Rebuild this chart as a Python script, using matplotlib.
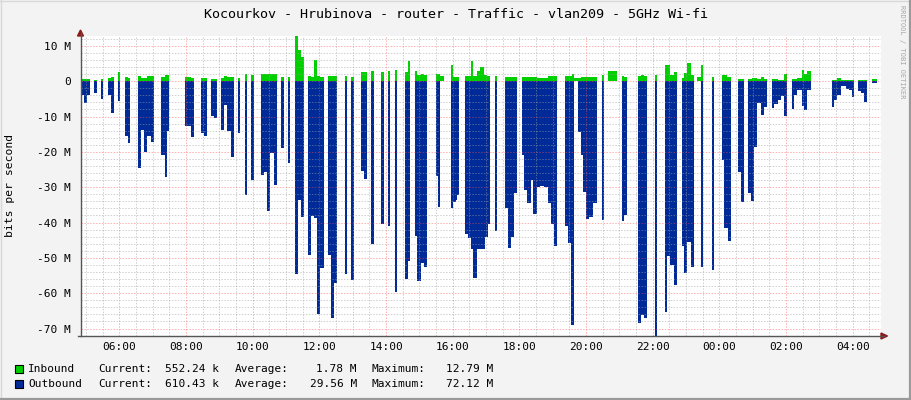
"""Graf provozu vlan209 (5GHz Wi-fi) ve stylu RRDtool / Cacti."""
import numpy as np
import matplotlib
matplotlib.use("Agg")
import matplotlib.pyplot as plt
from matplotlib.ticker import MultipleLocator, FuncFormatter
from matplotlib.patches import Polygon, Rectangle
from matplotlib.lines import Line2D

TITULEK = "Kocourkov - Hrubinova - router - Traffic - vlan209 - 5GHz Wi-fi"

# Inbound: časy změn hodnoty a hodnota v Mbit/s (0 = bez dat)
IN_CAS = ["04:50", "05:07", "05:15", "05:19", "05:26", "05:31", "05:39", "05:44", "05:50",
          "05:57", "06:01", "06:10", "06:15", "06:19", "06:33", "06:38", "06:50", "07:02",
          "07:15", "07:22", "07:30", "07:58", "08:08", "08:14", "08:27", "08:38", "08:45",
          "08:56", "09:03", "09:08", "09:14", "09:26", "09:33", "09:37", "09:46", "09:50",
          "09:57", "10:02", "10:15", "10:44", "10:51", "10:56",
          "11:03", "11:07", "11:16", "11:21", "11:26", "11:32", "11:39", "11:44", "11:51",
          "11:56", "12:01", "12:08", "12:15", "12:32", "12:46", "12:50", "12:57", "13:02",
          "13:15", "13:26", "13:33", "13:38", "13:51", "13:56", "14:03", "14:07", "14:16",
          "14:20", "14:34", "14:39", "14:43", "14:52", "14:56", "15:02", "15:08", "15:14",
          "15:29", "15:37", "15:44", "15:57", "16:01", "16:12", "16:22", "16:32", "16:37",
          "16:43", "16:49", "16:56", "17:01", "17:07", "17:16", "17:20",
          "17:34", "17:56", "18:04", "18:31", "18:51", "19:07", "19:22", "19:34", "19:38",
          "19:45", "19:51", "20:20", "20:29", "20:32", "20:39", "20:56", "21:05", "21:09",
          "21:14", "21:33", "21:39", "21:44", "21:50", "22:04", "22:08", "22:22", "22:31",
          "22:39", "22:44", "22:52", "22:57", "23:02", "23:08", "23:14", "23:20", "23:27",
          "23:31", "23:46", "23:50",
          "00:04", "00:13", "00:21", "00:33", "00:44", "00:51", "00:58", "01:08", "01:15",
          "01:20", "01:25", "01:34", "01:45", "01:56", "02:01", "02:10", "02:20", "02:28",
          "02:33", "02:38", "02:45", "03:22", "03:32", "03:39", "04:02", "04:09", "04:25",
          "04:34", "04:43"]
IN_MBPS = [0.6, 0, 0.3, 0, 0.6, 0, 0.8, 1.1, 0,
           2.6, 0, 1.1, 0.8, 0, 1.4, 0.8, 1.4, 0,
           1.1, 1.7, 0, 1.1, 0.8, 0, 0.8, 0, 0.5,
           0, 0.8, 1.4, 1.1, 0, 0.8, 0, 2.0, 0,
           1.7, 0, 2.0, 0, 1.1, 0,
           1.1, 0, 12.79, 8.8, 6.9, 0, 1.4, 1.1, 6.0,
           1.4, 1.1, 0, 1.4, 0, 1.4, 0, 1.1, 0,
           2.6, 0, 2.8, 0, 2.6, 0, 2.8, 0, 3.1,
           0, 2.6, 5.7, 0, 2.8, 1.7, 2.0, 1.7, 0,
           1.9, 1.5, 0, 4.5, 1.2, 0, 1.4, 5.6, 1.4,
           3.0, 4.0, 1.7, 1.4, 0, 1.4, 0,
           1.1, 0, 1.1, 0.85, 1.4, 0, 1.4, 2.1, 1.0,
           0.9, 1.3, 0, 1.7, 0, 2.8, 0, 1.4, 1.1,
           0, 1.4, 1.7, 1.4, 0, 1.7, 0, 4.5, 1.7,
           2.6, 0, 0.9, 2.3, 5.2, 1.7, 0, 1.2, 4.6,
           0, 1.1, 0,
           1.7, 1.1, 0, 0.6, 0, 0.6, 0.85, 0.6, 1.1,
           0.6, 0, 0.5, 0.3, 2.0, 0, 0.5, 0.8, 3.3,
           1.9, 2.8, 0, 0.3, 0.8, 0.3, 0, 0.3, 0,
           0.55, 0]

# Outbound: časy změn hodnoty a hodnota v Mbit/s (kreslí se dolů)
OUT_CAS = ["04:50", "04:57", "05:02", "05:07", "05:15", "05:19", "05:26", "05:31", "05:39",
           "05:44", "05:50", "05:57", "06:01", "06:10", "06:15", "06:19", "06:33", "06:38",
           "06:45", "06:50", "06:56", "07:02", "07:15", "07:22", "07:26", "07:30", "07:58",
           "08:08", "08:14", "08:27", "08:32", "08:38", "08:45", "08:51", "08:56", "09:03",
           "09:08", "09:14", "09:20", "09:26", "09:33", "09:37", "09:46", "09:50", "09:57",
           "10:02", "10:15", "10:20", "10:26", "10:31", "10:39", "10:44", "10:51", "10:56",
           "11:03", "11:07", "11:16", "11:21", "11:26", "11:32", "11:39", "11:44", "11:51",
           "11:56", "12:01", "12:08", "12:15", "12:20", "12:27", "12:32", "12:46", "12:50",
           "12:57", "13:02", "13:15", "13:20", "13:26", "13:33", "13:38", "13:51", "13:56",
           "14:03", "14:07", "14:16", "14:20", "14:34", "14:39", "14:43", "14:52", "14:56",
           "15:02", "15:08", "15:14", "15:29", "15:33", "15:37", "15:57", "16:01", "16:05",
           "16:08", "16:12", "16:22", "16:27", "16:32", "16:37", "16:43", "16:58", "17:03",
           "17:07", "17:16", "17:20",
           "17:34", "17:39", "17:45", "17:50", "17:56", "18:04", "18:09", "18:13", "18:20",
           "18:24", "18:31", "18:36", "18:45", "18:51", "18:57", "19:02", "19:07", "19:22",
           "19:27", "19:32", "19:38", "19:45", "19:51", "19:55", "19:59", "20:05", "20:12",
           "20:20", "20:29", "20:32", "21:05", "21:09", "21:14", "21:33", "21:39", "21:44",
           "21:50", "22:04", "22:08", "22:22", "22:25", "22:31", "22:39", "22:44", "22:52",
           "22:57", "23:02", "23:08", "23:14", "23:27", "23:31", "23:46", "23:50",
           "00:04", "00:09", "00:15", "00:21", "00:33", "00:39", "00:44", "00:51", "00:57",
           "01:02", "01:08", "01:15", "01:20", "01:25", "01:34", "01:39", "01:45", "01:51",
           "01:56", "02:01", "02:10", "02:14", "02:20", "02:28", "02:33", "02:38", "02:45",
           "03:22", "03:27", "03:32", "03:39", "03:48", "03:54", "03:58", "04:02", "04:09",
           "04:15", "04:21", "04:25", "04:34", "04:43"]
OUT_MBPS = [4.0, 6.3, 4.0, 0, 3.3, 0, 5.1, 0, 4.0,
            9.0, 0, 5.7, 0, 15.6, 17.5, 0, 24.6, 13.9,
            20.0, 15.6, 17.2, 0, 20.8, 27.2, 14.1, 0, 12.7,
            15.8, 0, 14.6, 15.5, 0, 9.8, 10.3, 0, 13.9,
            6.8, 14.1, 21.5, 0, 14.7, 0, 32.3, 0, 28.1,
            0, 26.6, 25.8, 36.8, 20.3, 29.3, 0, 18.9, 0,
            23.2, 0, 54.5, 33.5, 38.5, 0, 49.2, 38.1, 38.8,
            66.0, 53.0, 0, 49.2, 67.1, 57.2, 0, 54.6, 0,
            56.3, 0, 25.3, 27.7, 0, 46.1, 0, 40.4, 0,
            40.9, 0, 59.6, 0, 55.9, 50.9, 0, 43.9, 56.5,
            51.6, 52.7, 0, 26.7, 35.5, 0, 35.8, 34.1, 33.6,
            32.2, 0, 43.3, 44.5, 47.4, 55.7, 47.4, 44.0, 40.5,
            0, 42.4, 0,
            36.0, 47.1, 44.0, 31.7, 0, 20.8, 30.7, 34.5, 28.1,
            37.6, 30.0, 29.7, 30.0, 34.5, 40.4, 46.6, 0, 40.9,
            45.7, 68.9, 0, 14.5, 20.9, 31.5, 39.1, 38.4, 34.4,
            0, 39.3, 0, 39.7, 37.8, 0, 68.4, 66.2, 67.0,
            0, 72.12, 0, 65.3, 49.5, 52.0, 57.8, 0, 46.6,
            54.4, 45.4, 52.7, 0, 52.6, 0, 53.4, 0,
            22.4, 41.6, 45.1, 0, 25.6, 34.3, 0, 31.7, 34.0,
            18.7, 6.2, 9.5, 7.3, 0, 7.5, 6.5, 5.4, 4.3,
            9.8, 0, 8.0, 4.0, 2.6, 7.1, 8.2, 2.6, 0,
            7.3, 5.4, 4.0, 1.4, 2.1, 2.6, 4.5, 0, 2.7,
            3.3, 5.9, 0, 0.61, 0]

LEGENDA = [("Inbound", "552.24 k", "1.78 M", "12.79 M", "#00CF00"),
           ("Outbound", "610.43 k", "29.56 M", "72.12 M", "#002A97")]

plt.rcParams["font.family"] = ["DejaVu Sans Mono", "DejaVu Sans"]

W, H = 911, 400


def hodiny(casy):
    out = []
    for s in casy:
        h, m = map(int, s.split(":"))
        v = h + m / 60
        if v < 4.8:          # po půlnoci -> další den
            v += 24
        out.append(v)
    return np.array(out)


def fx(px):
    return px / W


def fy(py):
    return 1 - py / H


fig = plt.figure(figsize=(W / 100, H / 100), dpi=100, facecolor="#f3f3f3")
ax = fig.add_axes([fx(80.5), fy(336), 800 / W, 300 / H])
ax.set_facecolor("white")

t_in = hodiny(IN_CAS)
t_out = hodiny(OUT_CAS)
ax.fill_between(t_in, 0, np.array(IN_MBPS) * 1e6, step="post",
                color="#00CF00", linewidth=0)
ax.fill_between(t_out, 0, -np.array(OUT_MBPS) * 1e6, step="post",
                color="#002A97", linewidth=0)

start = 4 + 49.8 / 60
ax.set_xlim(start, start + 24)
ax.set_ylim(-72.12e6, 12.79e6)

ax.xaxis.set_major_locator(MultipleLocator(2))
ax.xaxis.set_minor_locator(MultipleLocator(0.5))
ax.xaxis.set_major_formatter(FuncFormatter(lambda v, p: f"{int(round(v)) % 24:02d}:00"))
ax.yaxis.set_major_locator(MultipleLocator(10e6))
ax.yaxis.set_minor_locator(MultipleLocator(2e6))
ax.yaxis.set_major_formatter(
    FuncFormatter(lambda v, p: "0" if abs(v) < 1 else f"{v / 1e6:.0f} M"))

ax.grid(which="minor", color="#a0a0a0", alpha=0.5, linewidth=0.7,
        linestyle=(0, (1.5, 1.5)))
ax.grid(which="major", color="#ff5050", alpha=0.45, linewidth=0.7,
        linestyle=(0, (1.5, 1.5)))
ax.set_axisbelow(False)
ax.tick_params(which="both", length=0, labelsize=8, colors="black")
ax.tick_params(axis="x", pad=4)
ax.tick_params(axis="y", pad=7)
for s in ax.spines.values():
    s.set_visible(False)

# osy se šipkami
osa = "#555555"
fig.add_artist(Line2D([fx(80.5), fx(80.5)], [fy(336), fy(33)], color=osa, lw=1))
fig.add_artist(Line2D([fx(78), fx(884)], [fy(336), fy(336)], color=osa, lw=1))
fig.add_artist(Polygon([(fx(77.5), fy(36)), (fx(83.5), fy(36)), (fx(80.5), fy(30))],
                       closed=True, color="#8b1a1a"))
fig.add_artist(Polygon([(fx(881), fy(333)), (fx(881), fy(339)), (fx(887.5), fy(336))],
                       closed=True, color="#8b1a1a"))

fig.text(fx(455.5), fy(15), TITULEK, ha="center", va="center", fontsize=9.6)
fig.text(fx(10), fy(185), "bits per second", rotation=90,
         ha="center", va="center", fontsize=8.2)
fig.text(fx(902), fy(52), "RRDTOOL / TOBI OETIKER", rotation=-90,
         ha="center", va="center", fontsize=5, color="#a8a8a8")

# legenda
for i, (nazev, cur, avg, mx, barva) in enumerate(LEGENDA):
    y = 368.5 + i * 15.5
    fig.add_artist(Rectangle((fx(14.5), fy(y + 4)), 8 / W, 8 / H,
                             facecolor=barva, edgecolor="black", lw=0.8))
    fig.text(fx(28), fy(y), nazev, va="center", fontsize=8)
    fig.text(fx(98), fy(y), "Current:", va="center", fontsize=8)
    fig.text(fx(219), fy(y), cur, va="center", ha="right", fontsize=8)
    fig.text(fx(235), fy(y), "Average:", va="center", fontsize=8)
    fig.text(fx(357), fy(y), avg, va="center", ha="right", fontsize=8)
    fig.text(fx(371), fy(y), "Maximum:", va="center", fontsize=8)
    fig.text(fx(493), fy(y), mx, va="center", ha="right", fontsize=8)

# okraj obrázku (stín)
fig.add_artist(Line2D([0, 1], [fy(0.5), fy(0.5)], color="#d8d8d8", lw=1))
fig.add_artist(Line2D([fx(0.5), fx(0.5)], [0, 1], color="#d8d8d8", lw=1))
fig.add_artist(Line2D([0, 1], [fy(398.5), fy(398.5)], color="#9a9a9a", lw=1.6))
fig.add_artist(Line2D([fx(909.5), fx(909.5)], [0, 1], color="#9a9a9a", lw=1.6))

fig.savefig("out.png", dpi=100, facecolor=fig.get_facecolor())
